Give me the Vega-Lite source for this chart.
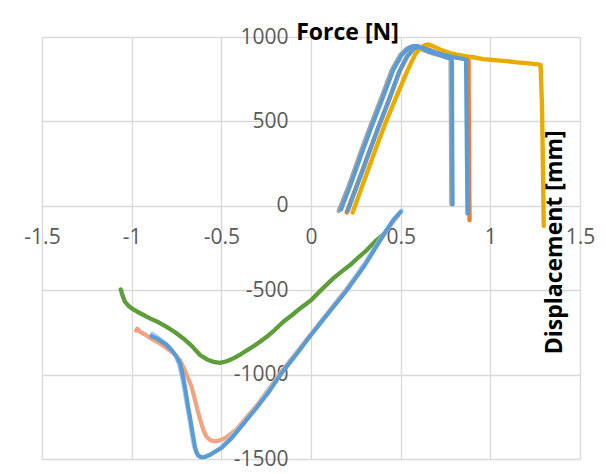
{
  "$schema": "https://vega.github.io/schema/vega-lite/v6.json",
  "width": 538,
  "height": 422,
  "autosize": {"type": "none"},
  "padding": {"left": 42, "top": 37, "right": 26, "bottom": 15},
  "background": "white",
  "config": {"view": {"stroke": null}, "font": "Open Sans"},
  "data": {"values": [
    {"s":"A","i":0,"x":0.155,"y":-30},{"s":"A","i":1,"x":0.209,"y":113},{"s":"A","i":2,"x":0.242,"y":210},{"s":"A","i":3,"x":0.275,"y":310},{"s":"A","i":4,"x":0.33,"y":468},{"s":"A","i":5,"x":0.395,"y":646},{"s":"A","i":6,"x":0.451,"y":804},{"s":"A","i":7,"x":0.498,"y":893},{"s":"A","i":8,"x":0.535,"y":932},{"s":"A","i":9,"x":0.565,"y":945},{"s":"A","i":10,"x":0.59,"y":944},{"s":"A","i":11,"x":0.63,"y":922},{"s":"A","i":12,"x":0.68,"y":903},{"s":"A","i":13,"x":0.73,"y":888},{"s":"A","i":14,"x":0.77,"y":873},{"s":"A","i":15,"x":0.779,"y":870},{"s":"A","i":16,"x":0.783,"y":10},

    {"s":"C","i":0,"x":0.199,"y":-39},{"s":"C","i":1,"x":0.25,"y":105},{"s":"C","i":2,"x":0.287,"y":210},{"s":"C","i":3,"x":0.32,"y":305},{"s":"C","i":4,"x":0.375,"y":462},{"s":"C","i":5,"x":0.44,"y":640},{"s":"C","i":6,"x":0.493,"y":795},{"s":"C","i":7,"x":0.538,"y":887},{"s":"C","i":8,"x":0.572,"y":930},{"s":"C","i":9,"x":0.602,"y":943},{"s":"C","i":10,"x":0.64,"y":932},{"s":"C","i":11,"x":0.7,"y":907},{"s":"C","i":12,"x":0.76,"y":890},{"s":"C","i":13,"x":0.82,"y":877},{"s":"C","i":14,"x":0.878,"y":869},{"s":"C","i":15,"x":0.882,"y":60},{"s":"C","i":16,"x":0.884,"y":-85},

    {"s":"E","i":0,"x":0.232,"y":-39},{"s":"E","i":1,"x":0.27,"y":72},{"s":"E","i":2,"x":0.311,"y":192},{"s":"E","i":3,"x":0.36,"y":335},{"s":"E","i":4,"x":0.422,"y":508},{"s":"E","i":5,"x":0.47,"y":630},{"s":"E","i":6,"x":0.515,"y":745},{"s":"E","i":7,"x":0.55,"y":830},{"s":"E","i":8,"x":0.58,"y":895},{"s":"E","i":9,"x":0.61,"y":935},{"s":"E","i":10,"x":0.635,"y":952},{"s":"E","i":11,"x":0.655,"y":956},{"s":"E","i":12,"x":0.68,"y":946},{"s":"E","i":13,"x":0.72,"y":926},{"s":"E","i":14,"x":0.775,"y":905},{"s":"E","i":15,"x":0.812,"y":895},{"s":"E","i":16,"x":0.868,"y":885},{"s":"E","i":17,"x":0.905,"y":880},{"s":"E","i":18,"x":0.961,"y":869},{"s":"E","i":19,"x":1.0,"y":865},{"s":"E","i":20,"x":1.054,"y":860},{"s":"E","i":21,"x":1.091,"y":857},{"s":"E","i":22,"x":1.147,"y":850},{"s":"E","i":23,"x":1.2,"y":845},{"s":"E","i":24,"x":1.258,"y":839},{"s":"E","i":25,"x":1.28,"y":835},{"s":"E","i":26,"x":1.288,"y":600},{"s":"E","i":27,"x":1.298,"y":-120},

    {"s":"G","i":0,"x":-1.061,"y":-495},{"s":"G","i":1,"x":-1.05,"y":-535},{"s":"G","i":2,"x":-1.037,"y":-569},{"s":"G","i":3,"x":-1.015,"y":-595},{"s":"G","i":4,"x":-0.991,"y":-614},{"s":"G","i":5,"x":-0.95,"y":-638},{"s":"G","i":6,"x":-0.898,"y":-667},{"s":"G","i":7,"x":-0.85,"y":-690},{"s":"G","i":8,"x":-0.805,"y":-717},{"s":"G","i":9,"x":-0.76,"y":-748},{"s":"G","i":10,"x":-0.712,"y":-786},{"s":"G","i":11,"x":-0.665,"y":-830},{"s":"G","i":12,"x":-0.619,"y":-884},{"s":"G","i":13,"x":-0.58,"y":-910},{"s":"G","i":14,"x":-0.545,"y":-924},{"s":"G","i":15,"x":-0.508,"y":-930},{"s":"G","i":16,"x":-0.47,"y":-921},{"s":"G","i":17,"x":-0.433,"y":-904},{"s":"G","i":18,"x":-0.39,"y":-878},{"s":"G","i":19,"x":-0.34,"y":-845},{"s":"G","i":20,"x":-0.29,"y":-810},{"s":"G","i":21,"x":-0.247,"y":-776},{"s":"G","i":22,"x":-0.2,"y":-733},{"s":"G","i":23,"x":-0.154,"y":-687},{"s":"G","i":24,"x":-0.105,"y":-647},{"s":"G","i":25,"x":-0.061,"y":-608},{"s":"G","i":26,"x":0,"y":-559},{"s":"G","i":27,"x":0.06,"y":-495},{"s":"G","i":28,"x":0.124,"y":-430},{"s":"G","i":29,"x":0.17,"y":-390},{"s":"G","i":30,"x":0.218,"y":-351},{"s":"G","i":31,"x":0.265,"y":-305},{"s":"G","i":32,"x":0.311,"y":-262},{"s":"G","i":33,"x":0.366,"y":-203},{"s":"G","i":34,"x":0.4,"y":-172},

    {"s":"S","i":0,"x":-0.975,"y":-740},{"s":"S","i":1,"x":-0.968,"y":-728},{"s":"S","i":2,"x":-0.955,"y":-745},{"s":"S","i":3,"x":-0.93,"y":-760},{"s":"S","i":4,"x":-0.898,"y":-782},{"s":"S","i":5,"x":-0.85,"y":-810},{"s":"S","i":6,"x":-0.805,"y":-843},{"s":"S","i":7,"x":-0.765,"y":-875},{"s":"S","i":8,"x":-0.731,"y":-914},{"s":"S","i":9,"x":-0.71,"y":-960},{"s":"S","i":10,"x":-0.69,"y":-1010},{"s":"S","i":11,"x":-0.666,"y":-1072},{"s":"S","i":12,"x":-0.647,"y":-1151},{"s":"S","i":13,"x":-0.628,"y":-1230},{"s":"S","i":14,"x":-0.61,"y":-1295},{"s":"S","i":15,"x":-0.6,"y":-1329},{"s":"S","i":16,"x":-0.585,"y":-1365},{"s":"S","i":17,"x":-0.563,"y":-1388},{"s":"S","i":18,"x":-0.54,"y":-1395},{"s":"S","i":19,"x":-0.508,"y":-1390},{"s":"S","i":20,"x":-0.47,"y":-1370},{"s":"S","i":21,"x":-0.415,"y":-1325},{"s":"S","i":22,"x":-0.3,"y":-1180},{"s":"S","i":23,"x":-0.17,"y":-990},{"s":"S","i":24,"x":0,"y":-760},{"s":"S","i":25,"x":0.199,"y":-492},{"s":"S","i":26,"x":0.3,"y":-345},{"s":"S","i":27,"x":0.4,"y":-180},{"s":"S","i":28,"x":0.46,"y":-90},{"s":"S","i":29,"x":0.485,"y":-58},

    {"s":"L","i":0,"x":-0.885,"y":-758},{"s":"L","i":1,"x":-0.86,"y":-775},{"s":"L","i":2,"x":-0.81,"y":-815},{"s":"L","i":3,"x":-0.78,"y":-848},{"s":"L","i":4,"x":-0.755,"y":-888},{"s":"L","i":5,"x":-0.737,"y":-935},{"s":"L","i":6,"x":-0.727,"y":-980},{"s":"L","i":7,"x":-0.717,"y":-1030},{"s":"L","i":8,"x":-0.708,"y":-1080},{"s":"L","i":9,"x":-0.699,"y":-1135},{"s":"L","i":10,"x":-0.69,"y":-1190},{"s":"L","i":11,"x":-0.68,"y":-1250},{"s":"L","i":12,"x":-0.671,"y":-1310},{"s":"L","i":13,"x":-0.662,"y":-1370},{"s":"L","i":14,"x":-0.652,"y":-1425},{"s":"L","i":15,"x":-0.642,"y":-1458},{"s":"L","i":16,"x":-0.632,"y":-1478},{"s":"L","i":17,"x":-0.615,"y":-1488},{"s":"L","i":18,"x":-0.595,"y":-1487},{"s":"L","i":19,"x":-0.56,"y":-1472},{"s":"L","i":20,"x":-0.5,"y":-1432},{"s":"L","i":21,"x":-0.4,"y":-1318},{"s":"L","i":22,"x":-0.3,"y":-1188},{"s":"L","i":23,"x":-0.17,"y":-998},{"s":"L","i":24,"x":0,"y":-762},{"s":"L","i":25,"x":0.2,"y":-495},{"s":"L","i":26,"x":0.3,"y":-340},{"s":"L","i":27,"x":0.4,"y":-175},{"s":"L","i":28,"x":0.46,"y":-82},{"s":"L","i":29,"x":0.505,"y":-28},

    {"s":"Bt","i":0,"x":-0.89,"y":-772},{"s":"Bt","i":1,"x":-0.86,"y":-785},{"s":"Bt","i":2,"x":-0.84,"y":-800},{"s":"Bt","i":3,"x":-0.805,"y":-825},{"s":"Bt","i":4,"x":-0.775,"y":-858},{"s":"Bt","i":5,"x":-0.749,"y":-895},{"s":"Bt","i":6,"x":-0.73,"y":-935},{"s":"Bt","i":7,"x":-0.721,"y":-973},{"s":"Bt","i":8,"x":-0.712,"y":-1020},{"s":"Bt","i":9,"x":-0.703,"y":-1072},{"s":"Bt","i":10,"x":-0.694,"y":-1130},{"s":"Bt","i":11,"x":-0.685,"y":-1191},{"s":"Bt","i":12,"x":-0.675,"y":-1250},{"s":"Bt","i":13,"x":-0.666,"y":-1309},{"s":"Bt","i":14,"x":-0.656,"y":-1370},{"s":"Bt","i":15,"x":-0.647,"y":-1428},{"s":"Bt","i":16,"x":-0.638,"y":-1460},{"s":"Bt","i":17,"x":-0.628,"y":-1480},{"s":"Bt","i":18,"x":-0.61,"y":-1490},{"s":"Bt","i":19,"x":-0.59,"y":-1488},{"s":"Bt","i":20,"x":-0.56,"y":-1474},{"s":"Bt","i":21,"x":-0.5,"y":-1435},{"s":"Bt","i":22,"x":-0.45,"y":-1385},{"s":"Bt","i":23,"x":-0.4,"y":-1322},{"s":"Bt","i":24,"x":-0.3,"y":-1192},{"s":"Bt","i":25,"x":-0.23,"y":-1095},{"s":"Bt","i":26,"x":-0.17,"y":-1000},{"s":"Bt","i":27,"x":-0.08,"y":-878},{"s":"Bt","i":28,"x":0,"y":-766},{"s":"Bt","i":29,"x":0.1,"y":-632},{"s":"Bt","i":30,"x":0.2,"y":-500},{"s":"Bt","i":31,"x":0.3,"y":-352},{"s":"Bt","i":32,"x":0.4,"y":-180},{"s":"Bt","i":33,"x":0.459,"y":-85},{"s":"Bt","i":34,"x":0.5,"y":-36},

    {"s":"D","i":0,"x":0.205,"y":-30},{"s":"D","i":1,"x":0.25,"y":100},{"s":"D","i":2,"x":0.285,"y":200},{"s":"D","i":3,"x":0.318,"y":300},{"s":"D","i":4,"x":0.373,"y":458},{"s":"D","i":5,"x":0.437,"y":636},{"s":"D","i":6,"x":0.49,"y":790},{"s":"D","i":7,"x":0.535,"y":885},{"s":"D","i":8,"x":0.57,"y":928},{"s":"D","i":9,"x":0.6,"y":943},{"s":"D","i":10,"x":0.64,"y":930},{"s":"D","i":11,"x":0.7,"y":906},{"s":"D","i":12,"x":0.76,"y":889},{"s":"D","i":13,"x":0.82,"y":876},{"s":"D","i":14,"x":0.864,"y":868},{"s":"D","i":15,"x":0.872,"y":-45},

    {"s":"B","i":0,"x":0.168,"y":-22},{"s":"B","i":1,"x":0.217,"y":113},{"s":"B","i":2,"x":0.25,"y":210},{"s":"B","i":3,"x":0.283,"y":310},{"s":"B","i":4,"x":0.338,"y":468},{"s":"B","i":5,"x":0.403,"y":646},{"s":"B","i":6,"x":0.459,"y":804},{"s":"B","i":7,"x":0.506,"y":893},{"s":"B","i":8,"x":0.54,"y":930},{"s":"B","i":9,"x":0.57,"y":946},{"s":"B","i":10,"x":0.59,"y":947},{"s":"B","i":11,"x":0.62,"y":932},{"s":"B","i":12,"x":0.66,"y":912},{"s":"B","i":13,"x":0.72,"y":893},{"s":"B","i":14,"x":0.76,"y":878},{"s":"B","i":15,"x":0.786,"y":870},{"s":"B","i":16,"x":0.79,"y":8}
  ]},
  "mark": {"type": "line", "strokeCap": "round", "strokeJoin": "round", "clip": false},
  "encoding": {
    "x": {
      "field": "x", "type": "quantitative",
      "scale": {"domain": [-1.5, 1.5], "nice": false, "zero": false},
      "axis": {
        "values": [-1.5, -1, -0.5, 0, 0.5, 1, 1.5],
        "offset": -253.2,
        "grid": true, "gridColor": "#D9D9D9", "gridWidth": 1.3,
        "domain": false, "ticks": false, "tickSize": 0,
        "labelExpr": "toString(datum.value)",
        "labelFont": "Open Sans", "labelFontSize": 21, "labelColor": "#595959",
        "labelPadding": 32, "labelBaseline": "middle",
        "labelFlush": false, "labelOverlap": false,
        "title": "Displacement [mm]",
        "titleFont": "Open Sans", "titleFontSize": 23, "titleFontWeight": "bold", "titleColor": "#000000",
        "titleAngle": 270, "titleX": 512, "titleY": 36, "titleAlign": "center", "titleBaseline": "middle"
      }
    },
    "y": {
      "field": "y", "type": "quantitative",
      "scale": {"domain": [-1500, 1000], "nice": false, "zero": false},
      "axis": {
        "values": [-1500, -1000, -500, 0, 500, 1000],
        "offset": -269,
        "grid": true, "gridColor": "#D9D9D9", "gridWidth": 1.3,
        "domain": false, "ticks": false, "tickSize": 0,
        "labelExpr": "toString(datum.value)",
        "labelFont": "Open Sans", "labelFontSize": 21, "labelColor": "#595959",
        "labelPadding": 23, "labelBaseline": "middle",
        "labelFlush": false, "labelOverlap": false,
        "title": "Force [N]",
        "titleFont": "Open Sans", "titleFontSize": 23, "titleFontWeight": "bold", "titleColor": "#000000",
        "titleAngle": 0, "titleX": 36, "titleY": -5, "titleAlign": "center", "titleBaseline": "middle"
      }
    },
    "color": {
      "field": "s", "type": "nominal",
      "scale": {
        "domain": ["A", "C", "E", "G", "S", "L", "Bt", "D", "B"],
        "range": ["#A5A5A5", "#ED7D31", "#E8AC00", "#5E9E3A", "#F2A482", "#A9CCEA", "#5B9BD5", "#5B9BD5", "#5B9BD5"]
      },
      "legend": null
    },
    "strokeWidth": {
      "field": "s", "type": "ordinal",
      "scale": {
        "domain": ["A", "C", "E", "G", "S", "L", "Bt", "D", "B"],
        "range": [4.5, 4, 4, 3.5, 4, 4.5, 4.5, 4.5, 4.5]
      },
      "legend": null
    },
    "order": {"field": "i", "type": "quantitative"}
  }
}
